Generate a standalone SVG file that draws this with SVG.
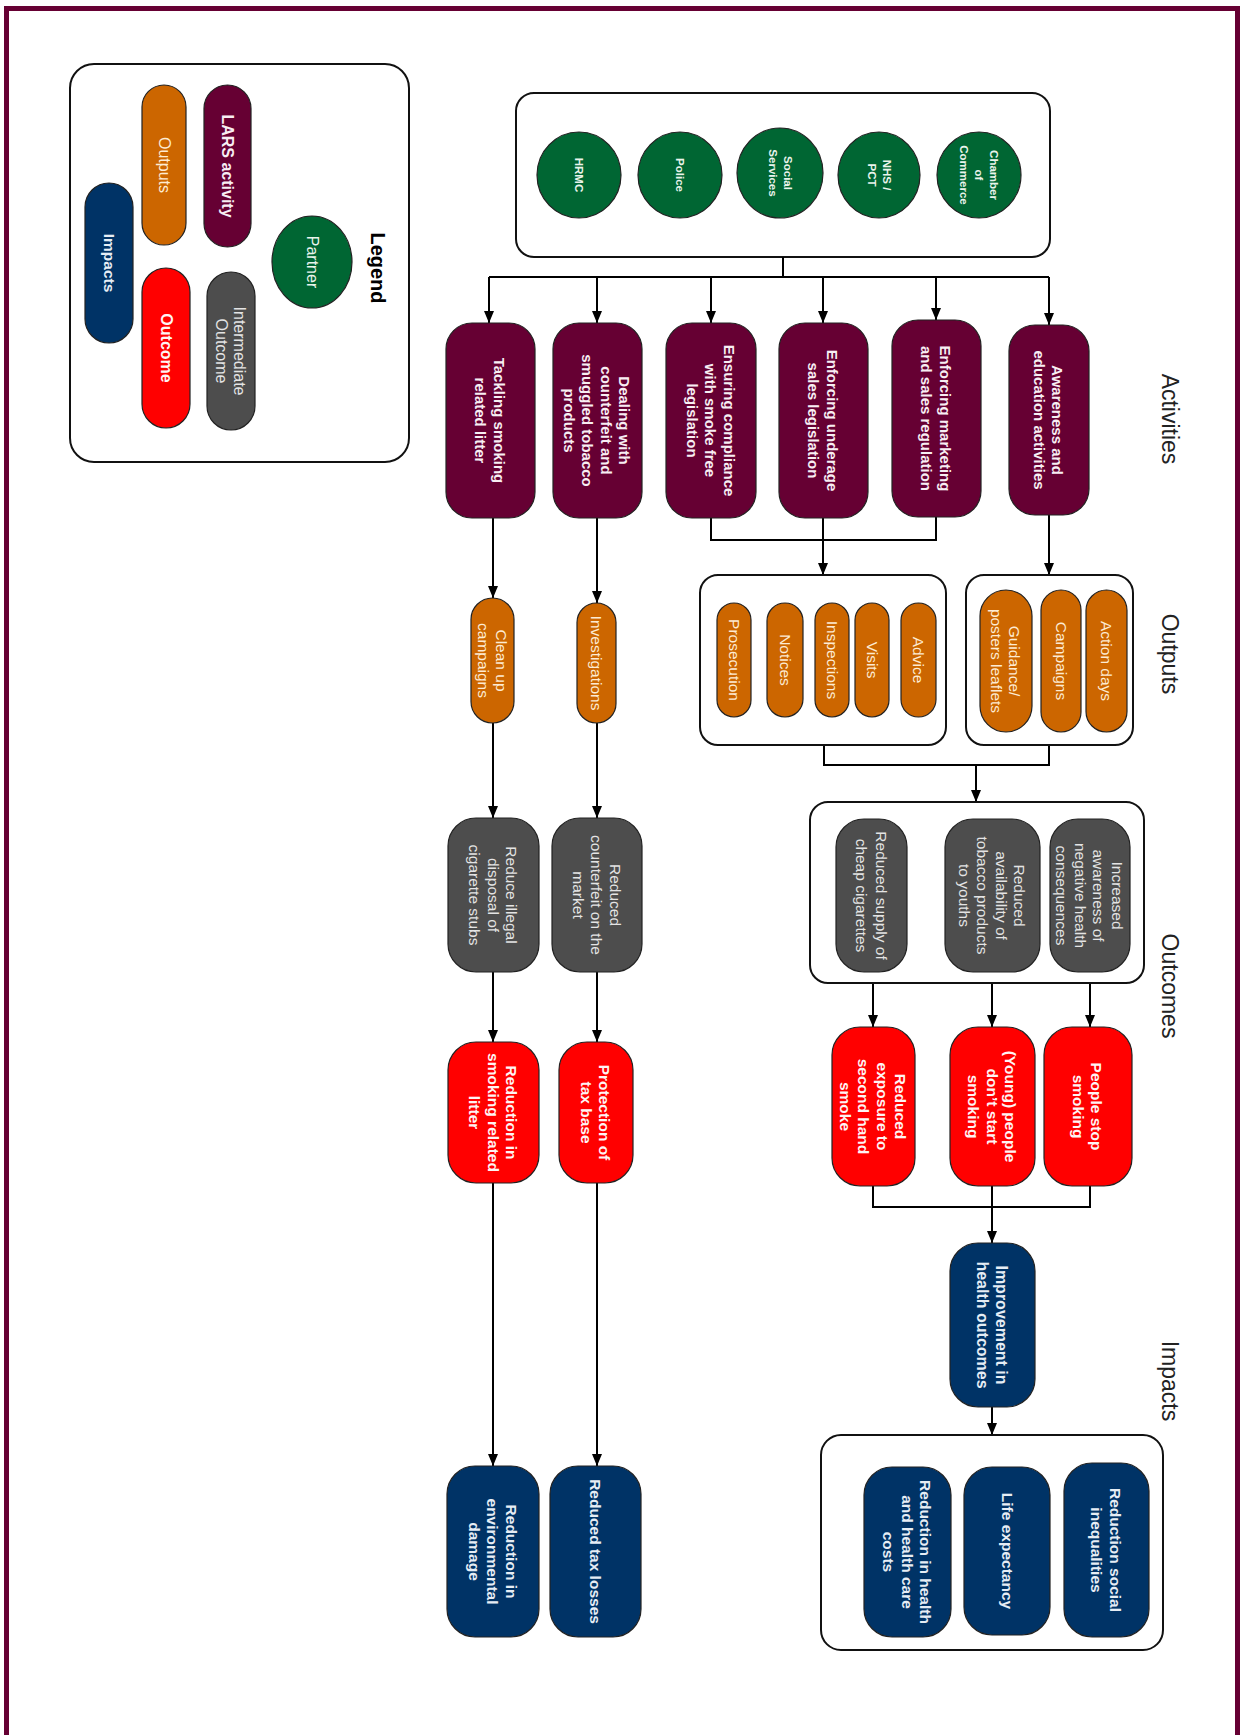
<svg xmlns="http://www.w3.org/2000/svg" width="1240" height="1735" viewBox="0 0 1240 1735">
<defs>
<marker id="ah" markerUnits="userSpaceOnUse" markerWidth="12" markerHeight="10" refX="12" refY="5" orient="auto">
<path d="M0,0 L12,5 L0,10 z" fill="#000"/>
</marker>
<style>
.frame{fill:none;stroke:#660033;stroke-width:5}
.box{fill:#fff;stroke:#111;stroke-width:2}
.act{fill:#660033;stroke:#222;stroke-width:1.2}
.out{fill:#cc6600;stroke:#222;stroke-width:1.2}
.int{fill:#4d4d4d;stroke:#222;stroke-width:1.2}
.res{fill:#ff0000;stroke:#222;stroke-width:1.2}
.imp{fill:#003366;stroke:#222;stroke-width:1.2}
.par{fill:#006633;stroke:#222;stroke-width:1.2}
text{font-family:'Liberation Sans',Arial,sans-serif;text-anchor:middle;dominant-baseline:central}
.ta{font-weight:bold;font-size:15px;fill:#f8eef3}
.to{font-size:15.5px;fill:#fdebd3}
.ti{font-size:15.5px;fill:#e4e4e4}
.tr{font-weight:bold;font-size:15.5px;fill:#fff4f4}
.tm{font-weight:bold;font-size:15.5px;fill:#e6edf5}
.tp{font-weight:bold;font-size:11.5px;fill:#eaf4ec}
.hd{font-size:23px;fill:#222}
.conn path{fill:none;stroke:#000;stroke-width:2}
</style>
</defs>
<rect x="0" y="0" width="1240" height="1735" fill="#fff"/>
<rect class="frame" x="6.5" y="8.5" width="1231" height="1800"/>

<!-- Legend -->
<g id="legend">
<rect class="box" x="70" y="64" width="339" height="398" rx="24"/>
<text transform="translate(378,268) rotate(90)" style="font-weight:bold;font-size:20px;fill:#000">Legend</text>
<ellipse class="par" cx="312" cy="262" rx="40" ry="46"/>
<text transform="translate(312,262) rotate(90)" style="font-size:16px;fill:#eaf4ec">Partner</text>
<rect class="act" x="204" y="85" width="47" height="162" rx="23.5"/>
<text transform="translate(227.5,166) rotate(90)" style="font-weight:bold;font-size:16px;fill:#f8eef3">LARS activity</text>
<rect class="out" x="142" y="85" width="44" height="160" rx="22"/>
<text transform="translate(164,165) rotate(90)" style="font-size:16px;fill:#fdebd3">Outputs</text>
<rect class="imp" x="85" y="183" width="48" height="160" rx="24"/>
<text transform="translate(109,263) rotate(90)" style="font-weight:bold;font-size:15.5px;fill:#e6edf5">Impacts</text>
<rect class="res" x="142" y="268" width="48" height="160" rx="24"/>
<text transform="translate(166,348) rotate(90)" style="font-weight:bold;font-size:16px;fill:#fff4f4">Outcome</text>
<rect class="int" x="207" y="272" width="48" height="158" rx="24"/>
<text transform="translate(231,351) rotate(90)" style="font-size:16px;fill:#e4e4e4"><tspan x="0" y="-9">Intermediate</tspan><tspan x="0" y="9">Outcome</tspan></text>
</g>

<!-- Headers -->
<g id="headers">
<text class="hd" transform="translate(1170,419) rotate(90)">Activities</text>
<text class="hd" transform="translate(1170,654) rotate(90)">Outputs</text>
<text class="hd" transform="translate(1170,986) rotate(90)">Outcomes</text>
<text class="hd" transform="translate(1170,1381) rotate(90)">Impacts</text>
</g>

<!-- Partners -->
<g id="partners">
<rect class="box" x="516" y="93" width="534" height="164" rx="18"/>
<g id="p-hrmc"><ellipse class="par" cx="579" cy="175" rx="42" ry="43"/><text class="tp" transform="translate(579,175) rotate(90)">HRMC</text></g>
<g id="p-police"><ellipse class="par" cx="680" cy="175" rx="42" ry="43"/><text class="tp" transform="translate(680,175) rotate(90)">Police</text></g>
<g id="p-social"><ellipse class="par" cx="780" cy="173" rx="43" ry="45"/><text class="tp" transform="translate(780,173) rotate(90)"><tspan x="0" y="-7.5">Social</tspan><tspan x="0" y="7.5">Services</tspan></text></g>
<g id="p-nhs"><ellipse class="par" cx="879" cy="175" rx="41" ry="43"/><text class="tp" transform="translate(879,175) rotate(90)"><tspan x="0" y="-7.5">NHS /</tspan><tspan x="0" y="7.5">PCT</tspan></text></g>
<g id="p-chamber"><ellipse class="par" cx="979" cy="175" rx="42" ry="43"/><text class="tp" transform="translate(979,175) rotate(90)"><tspan x="0" y="-15">Chamber</tspan><tspan x="0" y="0">of</tspan><tspan x="0" y="15">Commerce</tspan></text></g>
</g>

<!-- Connectors -->
<g class="conn" id="connectors">
<path d="M783,257 V277"/>
<path d="M489,277 H1049"/>
<path d="M489,277 V323" marker-end="url(#ah)"/>
<path d="M597,277 V323" marker-end="url(#ah)"/>
<path d="M711,277 V323" marker-end="url(#ah)"/>
<path d="M823,277 V323" marker-end="url(#ah)"/>
<path d="M936,277 V320" marker-end="url(#ah)"/>
<path d="M1049,277 V325" marker-end="url(#ah)"/>
<path d="M493,518 V598" marker-end="url(#ah)"/>
<path d="M597,518 V603" marker-end="url(#ah)"/>
<path d="M711,518 V540 H936 V517"/>
<path d="M823,518 V575" marker-end="url(#ah)"/>
<path d="M1049,515 V575" marker-end="url(#ah)"/>
<path d="M824,745 V765 H1049 V745"/>
<path d="M976,765 V802" marker-end="url(#ah)"/>
<path d="M493,723 V818" marker-end="url(#ah)"/>
<path d="M597,723 V818" marker-end="url(#ah)"/>
<path d="M907,896 H945" marker-end="url(#ah)"/>
<path d="M493,972 V1042" marker-end="url(#ah)"/>
<path d="M597,972 V1042" marker-end="url(#ah)"/>
<path d="M873,972 V1027" marker-end="url(#ah)"/>
<path d="M992,972 V1027" marker-end="url(#ah)"/>
<path d="M1090,972 V1027" marker-end="url(#ah)"/>
<path d="M873,1186 V1207 H1090 V1186"/>
<path d="M992,1186 V1243" marker-end="url(#ah)"/>
<path d="M992,1407 V1435" marker-end="url(#ah)"/>
<path d="M493,1183 V1466" marker-end="url(#ah)"/>
<path d="M597,1183 V1466" marker-end="url(#ah)"/>
</g>

<!-- Activities -->
<g id="a-litter"><rect class="act" x="446" y="323" width="89" height="195" rx="26"/><text class="ta" transform="translate(490.5,420.5) rotate(90)"><tspan x="0" y="-9.25">Tackling smoking</tspan><tspan x="0" y="9.25">related litter</tspan></text></g>
<g id="a-counterfeit"><rect class="act" x="553" y="323" width="89" height="195" rx="26"/><text class="ta" transform="translate(597.5,420.5) rotate(90)"><tspan x="0" y="-27.75">Dealing with</tspan><tspan x="0" y="-9.25">counterfeit and</tspan><tspan x="0" y="9.25">smuggled tobacco</tspan><tspan x="0" y="27.75">products</tspan></text></g>
<g id="a-smokefree"><rect class="act" x="666" y="323" width="90" height="195" rx="26"/><text class="ta" transform="translate(711,420.5) rotate(90)"><tspan x="0" y="-18.5">Ensuring compliance</tspan><tspan x="0" y="0">with smoke free</tspan><tspan x="0" y="18.5">legislation</tspan></text></g>
<g id="a-underage"><rect class="act" x="779" y="323" width="89" height="195" rx="26"/><text class="ta" transform="translate(823.5,420.5) rotate(90)"><tspan x="0" y="-9.25">Enforcing underage</tspan><tspan x="0" y="9.25">sales legislation</tspan></text></g>
<g id="a-marketing"><rect class="act" x="892" y="320" width="89" height="197" rx="26"/><text class="ta" transform="translate(936.5,418.5) rotate(90)"><tspan x="0" y="-9.25">Enforcing marketing</tspan><tspan x="0" y="9.25">and sales regulation</tspan></text></g>
<g id="a-awareness"><rect class="act" x="1009" y="325" width="80" height="190" rx="26"/><text class="ta" transform="translate(1049,420) rotate(90)"><tspan x="0" y="-9.25">Awareness and</tspan><tspan x="0" y="9.25">education activities</tspan></text></g>

<!-- Outputs -->
<g id="o-cleanup"><rect class="out" x="471" y="598" width="43" height="125" rx="21.5"/><text class="to" transform="translate(492.5,660.5) rotate(90)"><tspan x="0" y="-9">Clean up</tspan><tspan x="0" y="9">campaigns</tspan></text></g>
<g id="o-investigations"><rect class="out" x="577" y="603" width="39" height="120" rx="19.5"/><text class="to" transform="translate(596.5,663) rotate(90)">Investigations</text></g>
<g id="outputs-enforcement">
<rect class="box" x="700" y="575" width="246" height="170" rx="18"/>
<g id="o-prosecution"><rect class="out" x="717" y="603" width="34" height="114" rx="17"/><text class="to" transform="translate(734,660) rotate(90)">Prosecution</text></g>
<g id="o-notices"><rect class="out" x="767" y="603" width="36" height="114" rx="18"/><text class="to" transform="translate(785,660) rotate(90)">Notices</text></g>
<g id="o-inspections"><rect class="out" x="815" y="603" width="34" height="114" rx="17"/><text class="to" transform="translate(832,660) rotate(90)">Inspections</text></g>
<g id="o-visits"><rect class="out" x="855" y="603" width="34" height="114" rx="17"/><text class="to" transform="translate(872,660) rotate(90)">Visits</text></g>
<g id="o-advice"><rect class="out" x="901" y="603" width="35" height="114" rx="17.5"/><text class="to" transform="translate(918.5,660) rotate(90)">Advice</text></g>
</g>
<g id="outputs-awareness">
<rect class="box" x="966" y="575" width="167" height="170" rx="18"/>
<g id="o-guidance"><rect class="out" x="980" y="590" width="52" height="142" rx="26"/><text class="to" transform="translate(1006,661) rotate(90)"><tspan x="0" y="-9">Guidance/</tspan><tspan x="0" y="9">posters leaflets</tspan></text></g>
<g id="o-campaigns"><rect class="out" x="1041" y="590" width="40" height="142" rx="20"/><text class="to" transform="translate(1061,661) rotate(90)">Campaigns</text></g>
<g id="o-actiondays"><rect class="out" x="1086" y="590" width="41" height="142" rx="20.5"/><text class="to" transform="translate(1106.5,661) rotate(90)">Action days</text></g>
</g>

<!-- Intermediate outcomes -->
<g id="i-stubs"><rect class="int" x="448" y="818" width="91" height="154" rx="28"/><text class="ti" transform="translate(493.5,895) rotate(90)"><tspan x="0" y="-18.5">Reduce illegal</tspan><tspan x="0" y="0">disposal of</tspan><tspan x="0" y="18.5">cigarette stubs</tspan></text></g>
<g id="i-counterfeit"><rect class="int" x="552" y="818" width="90" height="154" rx="28"/><text class="ti" transform="translate(597,895) rotate(90)"><tspan x="0" y="-18.5">Reduced</tspan><tspan x="0" y="0">counterfeit on the</tspan><tspan x="0" y="18.5">market</tspan></text></g>
<g id="outcomes-box">
<rect class="box" x="810" y="802" width="334" height="181" rx="18"/>
<g id="i-supply"><rect class="int" x="836" y="819" width="71" height="153" rx="28"/><text class="ti" transform="translate(871.5,895.5) rotate(90)"><tspan x="0" y="-10">Reduced supply of</tspan><tspan x="0" y="10">cheap cigarettes</tspan></text></g>
<g id="i-availability"><rect class="int" x="945" y="819" width="95" height="153" rx="28"/><text class="ti" transform="translate(992.5,895.5) rotate(90)"><tspan x="0" y="-27.75">Reduced</tspan><tspan x="0" y="-9.25">availability of</tspan><tspan x="0" y="9.25">tobacco products</tspan><tspan x="0" y="27.75">to youths</tspan></text></g>
<g id="i-awareness"><rect class="int" x="1050" y="819" width="80" height="153" rx="28"/><text class="ti" transform="translate(1090,895.5) rotate(90)"><tspan x="0" y="-27.75">Increased</tspan><tspan x="0" y="-9.25">awareness of</tspan><tspan x="0" y="9.25">negative health</tspan><tspan x="0" y="27.75">consequences</tspan></text></g>
</g>

<!-- Outcomes -->
<g id="r-litter"><rect class="res" x="448" y="1042" width="91" height="141" rx="28"/><text class="tr" transform="translate(493.5,1112.5) rotate(90)"><tspan x="0" y="-18.5">Reduction in</tspan><tspan x="0" y="0">smoking related</tspan><tspan x="0" y="18.5">litter</tspan></text></g>
<g id="r-tax"><rect class="res" x="559" y="1042" width="74" height="141" rx="28"/><text class="tr" transform="translate(596,1112.5) rotate(90)"><tspan x="0" y="-9.25">Protection of</tspan><tspan x="0" y="9.25">tax base</tspan></text></g>
<g id="r-exposure"><rect class="res" x="832" y="1027" width="83" height="159" rx="28"/><text class="tr" transform="translate(873.5,1106.5) rotate(90)"><tspan x="0" y="-27.75">Reduced</tspan><tspan x="0" y="-9.25">exposure to</tspan><tspan x="0" y="9.25">second hand</tspan><tspan x="0" y="27.75">smoke</tspan></text></g>
<g id="r-young"><rect class="res" x="950" y="1027" width="85" height="159" rx="28"/><text class="tr" transform="translate(992.5,1106.5) rotate(90)"><tspan x="0" y="-18.5">(Young) people</tspan><tspan x="0" y="0">don’t start</tspan><tspan x="0" y="18.5">smoking</tspan></text></g>
<g id="r-stop"><rect class="res" x="1044" y="1027" width="88" height="159" rx="28"/><text class="tr" transform="translate(1088,1106.5) rotate(90)"><tspan x="0" y="-9.25">People stop</tspan><tspan x="0" y="9.25">smoking</tspan></text></g>

<!-- Impacts -->
<g id="m-health"><rect class="imp" x="950" y="1243" width="85" height="164" rx="28"/><text class="tm" transform="translate(992.5,1325) rotate(90)" style="font-size:16px"><tspan x="0" y="-9.25">Improvement in</tspan><tspan x="0" y="9.25">health outcomes</tspan></text></g>
<g id="impacts-box">
<rect class="box" x="821" y="1435" width="342" height="215" rx="20"/>
<g id="m-costs"><rect class="imp" x="864" y="1467" width="87" height="170" rx="28"/><text class="tm" transform="translate(907.5,1552) rotate(90)"><tspan x="0" y="-18.5">Reduction in health</tspan><tspan x="0" y="0">and health care</tspan><tspan x="0" y="18.5">costs</tspan></text></g>
<g id="m-life"><rect class="imp" x="964" y="1467" width="86" height="168" rx="28"/><text class="tm" transform="translate(1007,1551) rotate(90)">Life expectancy</text></g>
<g id="m-inequal"><rect class="imp" x="1064" y="1463" width="85" height="174" rx="28"/><text class="tm" transform="translate(1106.5,1550) rotate(90)"><tspan x="0" y="-9.25">Reduction social</tspan><tspan x="0" y="9.25">inequalities</tspan></text></g>
</g>
<g id="m-environment"><rect class="imp" x="447" y="1466" width="92" height="171" rx="28"/><text class="tm" transform="translate(493,1551.5) rotate(90)"><tspan x="0" y="-18.5">Reduction in</tspan><tspan x="0" y="0">environmental</tspan><tspan x="0" y="18.5">damage</tspan></text></g>
<g id="m-taxlosses"><rect class="imp" x="550" y="1466" width="91" height="171" rx="28"/><text class="tm" transform="translate(595.5,1551.5) rotate(90)">Reduced tax losses</text></g>
</svg>
